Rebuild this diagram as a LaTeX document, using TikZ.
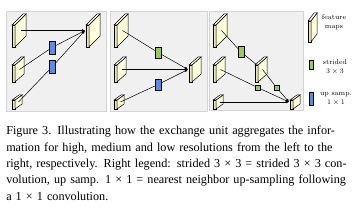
\documentclass[tikz,border=0pt]{standalone}
\usepackage{fontspec}
\newfontfamily\capfont{Liberation Serif}
\usetikzlibrary{arrows.meta}
\definecolor{XUPanel}{HTML}{F0F0F0}
\definecolor{XUFrame}{HTML}{D4D4D4}
\definecolor{XUCream}{HTML}{FFFFDC}
\definecolor{XUSide}{HTML}{E8E4B8}
\definecolor{XUTop}{HTML}{FFFFF0}
\definecolor{XUBlue}{HTML}{5B8CDB}
\definecolor{XUGreen}{HTML}{9CC85C}

% feature map: name, x, bottom y, height, depth x, depth y
\newcommand\fmap[6]{%
  \filldraw[fill=XUSide] (#2,#3) rectangle ++(3,-#4);
  \filldraw[fill=XUCream] (#2+3,#3) -- ++(#5,-#6) -- ++(0,-#4) -- ++(-#5,#6) -- cycle;
  \filldraw[fill=XUTop] (#2,#3-#4) -- ++(#5,-#6) -- ++(3,0) -- ++(-#5,#6) -- cycle;
  \coordinate (#1) at (#2+3+#5/2,#3-#4/2-#6/2);
  \coordinate (#1-in) at (#2-1,#3-#4/2-#6/2);
}

\begin{document}
\begin{tikzpicture}[
      x=1pt,y=-1pt,line width=0.5pt,
      >={Latex[length=3.2pt,width=3pt]},
      panel/.style={fill=XUPanel,draw=XUFrame,line width=0.6pt},
      upbox/.style={draw,fill=XUBlue,minimum width=6pt,minimum height=13pt,inner sep=0pt},
      dsbox/.style={draw,fill=XUGreen,minimum width=6pt,minimum height=11pt,inner sep=0pt},
      dssmall/.style={draw,fill=XUGreen,minimum width=5pt,minimum height=5pt,inner sep=0pt},
      legtext/.style={font=\fontsize{7}{9.5}\selectfont,align=center,inner sep=0pt}
    ]
    \useasboundingbox (0,0) rectangle (357,216);

    \draw[panel] (6,11) rectangle (106,111);
    \draw[panel] (110,11) rectangle (207,111);
    \draw[panel] (209,11) rectangle (303,110);

    % high resolution
    \fmap{hiA}{12}{47}{22}{11}{11}
    \fmap{miA}{12}{82}{17}{9}{8}
    \fmap{loA}{12}{109}{9}{7}{5}
    \fmap{outA}{86}{47}{22}{11}{11}
    \node[upbox] (upA1) at (52,47.5) {};
    \node[upbox] (upA2) at (52,67) {};
    \draw[->] (hiA) -- (outA-in);
    \draw (miA) -- (upA1);
    \draw[->] (upA1) -- (outA-in);
    \draw (loA) -- (upA2);
    \draw[->] (upA2) -- (outA-in);

    % medium resolution
    \fmap{hiB}{114}{47}{22}{11}{11}
    \fmap{miB}{114}{82}{17}{9}{8}
    \fmap{loB}{114}{109}{9}{7}{5}
    \fmap{outB}{189}{82}{17}{9}{8}
    \node[dsbox] (dsB) at (158,52.5) {};
    \node[upbox,minimum height=11pt] (upB) at (158,84.5) {};
    \draw (hiB) -- (dsB);
    \draw[->] (dsB) -- (outB-in);
    \draw[->] (miB) -- (outB-in);
    \draw (loB) -- (upB);
    \draw[->] (upB) -- (outB-in);

    % low resolution
    \fmap{hiC}{213}{47}{22}{11}{11}
    \fmap{miC}{213}{82}{17}{9}{8}
    \fmap{loC}{213}{109}{9}{7}{5}
    \fmap{outC}{290}{109}{9}{7}{5}
    \node[dsbox] (dsC1) at (241,52) {};
    \draw (hiC) -- (dsC1);
    \draw (dsC1) -- (262.5,69.5);
    \fmap{midC}{255}{82}{17}{9}{8}
    \node[dssmall] (dsC2) at (257.5,87.5) {};
    \node[dssmall] (dsC3) at (276.5,87.5) {};
    \draw (midC) -- (dsC3);
    \draw[->] (dsC3) -- (outC-in);
    \draw (miC) -- (dsC2);
    \draw[->] (dsC2) -- (outC-in);
    \draw[->] (loC) -- (outC-in);

    % legend
    \fmap{legmap}{308}{42}{21}{6}{8}
    \node[legtext] (legmaptxt) at (334,22) {feature\\maps};
    \node[dsbox,minimum width=4pt,minimum height=9pt] (legds) at (311,64.5) {};
    \node[legtext] (legdstxt) at (335,67) {strided\\$3\times3$};
    \node[upbox,minimum width=4pt] (legup) at (311,98.5) {};
    \node[legtext] (leguptxt) at (336,99) {up samp.\\$1\times1$};

    \node[anchor=base west,inner sep=0pt,text width=345pt,align=left,
      font=\capfont\fontsize{12.2}{16.3}\selectfont] (caption) at (6,135)
      {\makebox[\linewidth][s]{Figure 3. Illustrating how the exchange unit aggregates the infor-}\\
       \makebox[\linewidth][s]{mation for high, medium and low resolutions from the left to the}\\
       \makebox[\linewidth][s]{right, respectively. Right legend: strided 3 × 3 = strided 3 × 3 con-}\\
       \makebox[\linewidth][s]{volution, up samp. 1 × 1 = nearest neighbor up-sampling following}\\
       a 1 × 1 convolution.};
  \end{tikzpicture}
\end{document}
